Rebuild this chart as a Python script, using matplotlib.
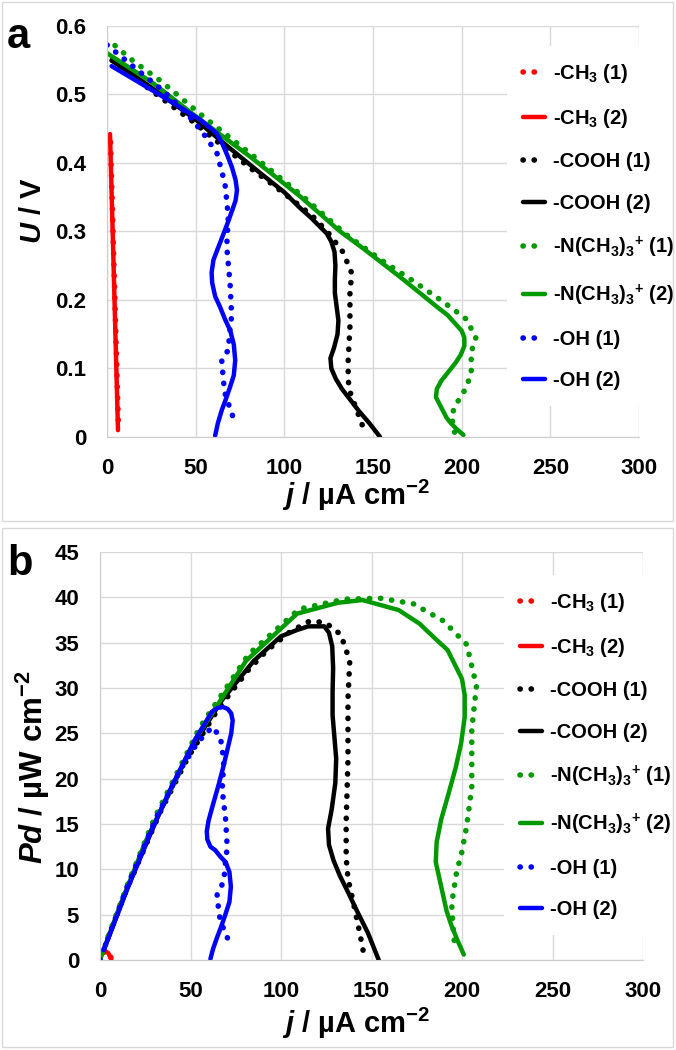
import matplotlib
matplotlib.use("Agg")
import matplotlib.pyplot as plt
from matplotlib.patches import Rectangle

plt.rcParams["font.family"] = ["Liberation Sans", "DejaVu Sans"]
plt.rcParams["font.weight"] = "bold"
plt.rcParams["mathtext.fontset"] = "custom"
plt.rcParams["mathtext.rm"] = "Liberation Sans:bold"
plt.rcParams["mathtext.bf"] = "Liberation Sans:bold"
plt.rcParams["mathtext.it"] = "Liberation Sans:italic:bold"

# ---- data: current density j (uA/cm2), cell voltage U (V), power density Pd (uW/cm2)
ch3_1_j = [2.0, 3.5, 5.0, 6.5]
ch3_1_u = [0.43, 0.29, 0.15, 0.01]
ch3_1_pd = [0.86, 1.02, 0.75, 0.07]

ch3_2_j = [1.7, 3.2, 4.7, 6.2]
ch3_2_u = [0.442, 0.30, 0.155, 0.01]
ch3_2_pd = [0.75, 0.96, 0.73, 0.06]

cooh_1_j = [3, 15, 33, 48.5, 65, 82, 92, 105, 116, 124.7, 133, 138, 137, 137, 136, 136, 137, 140, 143.6, 145.5]
cooh_1_u = [0.55, 0.525, 0.49, 0.46, 0.425, 0.39, 0.371, 0.345, 0.322, 0.298, 0.27, 0.239, 0.21,
            0.161, 0.112, 0.083, 0.066, 0.045, 0.02, 0.006]
cooh_1_pd = [1.65, 7.9, 16.2, 22.3, 27.6, 32.0, 34.1, 36.2, 37.4, 37.2, 35.9, 33.0, 28.8,
             22.1, 15.2, 11.3, 9.0, 6.3, 2.9, 0.9]

cooh_2_j = [2.6, 15, 33, 50, 67.5, 85, 100, 108.9, 115, 120, 123.9, 126.5, 128.3, 128.8, 128.5,
            128.5, 129.5, 130.5, 130, 128, 126, 126.5, 129, 132.5, 137, 142, 148, 154]
cooh_2_u = [0.549, 0.528, 0.495, 0.463, 0.425, 0.388, 0.357, 0.334, 0.32, 0.307, 0.297, 0.285,
            0.27, 0.25, 0.23, 0.21, 0.19, 0.17, 0.15, 0.13, 0.115, 0.1, 0.085, 0.07, 0.055,
            0.038, 0.02, 0.0]
cooh_2_pd = [1.4, 7.9, 16.3, 23.2, 28.7, 33.0, 35.7, 36.4, 36.8, 36.8, 36.8, 36.1, 34.6, 32.2,
             29.6, 27.0, 24.6, 22.2, 19.5, 16.6, 14.5, 12.7, 11.0, 9.3, 7.5, 5.4, 3.0, 0.0]

nme3_1_j = [4.5, 15, 30, 55, 82, 110, 135, 154.7, 173, 189.7, 202.6, 208, 205.4, 205.4, 202.6,
            199.8, 197, 194.3, 195.2, 196]
nme3_1_u = [0.571, 0.548, 0.52, 0.466, 0.411, 0.352, 0.295, 0.258, 0.227, 0.197, 0.172, 0.145,
            0.124, 0.093, 0.073, 0.059, 0.049, 0.032, 0.017, 0.007]
nme3_1_pd = [2.6, 8.2, 15.6, 25.6, 33.7, 38.7, 39.8, 39.9, 39.3, 37.4, 34.8, 30.2, 25.5, 19.1,
             14.8, 11.8, 9.7, 6.2, 3.3, 1.4]

nme3_2_j = [0, 10, 25, 52.5, 80.7, 108.9, 131.4, 145, 165, 176.5, 186, 192, 196.5, 200, 201.5,
            201.5, 199.5, 196.5, 192.5, 188.5, 186, 185.5, 187.5, 189.5, 191.5, 194, 197, 201]
nme3_2_u = [0.56, 0.543, 0.518, 0.463, 0.409, 0.351, 0.300, 0.274, 0.234, 0.21, 0.19, 0.178,
            0.165, 0.155, 0.145, 0.133, 0.12, 0.108, 0.095, 0.082, 0.07, 0.058, 0.048, 0.038,
            0.028, 0.02, 0.012, 0.003]
nme3_2_pd = [0, 5.4, 13.0, 24.3, 33.0, 38.2, 39.4, 39.7, 38.6, 37.1, 35.3, 34.2, 32.4, 31.0,
             29.2, 26.8, 23.9, 21.2, 18.3, 15.5, 13.0, 10.8, 9.0, 7.2, 5.4, 3.9, 2.4, 0.6]

oh_1_j = [0, 15, 30.8, 45, 54, 62, 66.5, 68.4, 67.5, 69.4, 70.3, 69.4, 68.4, 64.7, 65.6, 66.5,
          68.4, 70.3, 72.2]
oh_1_u = [0.572, 0.54, 0.507, 0.472, 0.444, 0.414, 0.37, 0.322, 0.278, 0.224, 0.176, 0.159,
          0.127, 0.112, 0.083, 0.064, 0.049, 0.035, 0.02]
oh_1_pd = [0, 8.1, 15.6, 21.2, 24.0, 25.7, 24.6, 22.0, 18.8, 15.5, 12.4, 11.0, 8.7, 7.2, 5.4,
           4.3, 3.4, 2.5, 1.4]

oh_2_j = [2.6, 15, 28, 40, 52.5, 61.9, 65, 68, 70.5, 72.5, 73.3, 72.5, 70.5, 68, 65.5, 62.5, 60,
          59, 59.3, 61, 63.7, 66.5, 69.4, 71.5, 72.3, 71.5, 69.4, 67, 64.7, 62.5, 61]
oh_2_u = [0.541, 0.522, 0.502, 0.483, 0.463, 0.443, 0.428, 0.41, 0.393, 0.375, 0.36, 0.345,
          0.33, 0.312, 0.295, 0.275, 0.258, 0.24, 0.225, 0.205, 0.19, 0.172, 0.156, 0.135, 0.112,
          0.09, 0.073, 0.055, 0.039, 0.02, 0.002]
oh_2_pd = [1.4, 7.8, 14.1, 19.3, 24.3, 27.4, 27.8, 27.9, 27.7, 27.2, 26.4, 25.0, 23.3, 21.2,
           19.3, 17.2, 15.4, 14.2, 13.3, 12.5, 12.1, 11.4, 10.8, 9.7, 8.1, 6.4, 5.1, 3.7, 2.5,
           1.25, 0.12]

labels = ["-CH$_\\mathbf{3}$ (1)", "-CH$_\\mathbf{3}$ (2)", "-COOH (1)", "-COOH (2)",
          "-N(CH$_\\mathbf{3}$)$_\\mathbf{3}$$^\\mathbf{+}$ (1)",
          "-N(CH$_\\mathbf{3}$)$_\\mathbf{3}$$^\\mathbf{+}$ (2)", "-OH (1)", "-OH (2)"]
colors = ["#ff0000", "#ff0000", "#000000", "#000000", "#009900", "#009900", "#0000ff", "#0000ff"]

j_series = [ch3_1_j, ch3_2_j, cooh_1_j, cooh_2_j, nme3_1_j, nme3_2_j, oh_1_j, oh_2_j]
u_series = [ch3_1_u, ch3_2_u, cooh_1_u, cooh_2_u, nme3_1_u, nme3_2_u, oh_1_u, oh_2_u]
pd_series = [ch3_1_pd, ch3_2_pd, cooh_1_pd, cooh_2_pd, nme3_1_pd, nme3_2_pd, oh_1_pd, oh_2_pd]

x_ticks = [0, 50, 100, 150, 200, 250, 300]
u_ticks = [0, 0.1, 0.2, 0.3, 0.4, 0.5, 0.6]
u_tick_labels = ["0", "0.1", "0.2", "0.3", "0.4", "0.5", "0.6"]
pd_ticks = [0, 5, 10, 15, 20, 25, 30, 35, 40, 45]

W, H = 676, 1050
GRID = "#d9d9d9"

fig = plt.figure(figsize=(W / 100, H / 100), dpi=100)
fig.patches.append(Rectangle((2 / W, 1 - 521 / H), 671 / W, 519 / H, transform=fig.transFigure,
                             fill=False, edgecolor=GRID, lw=1))
fig.patches.append(Rectangle((2 / W, 1 - 1047 / H), 671 / W, 519 / H, transform=fig.transFigure,
                             fill=False, edgecolor=GRID, lw=1))

ax_a = fig.add_axes([107 / W, 1 - 437 / H, (639 - 107) / W, (437 - 25.7) / H])
ax_b = fig.add_axes([100 / W, 1 - 960 / H, (643 - 100) / W, (960 - 552) / H])


def draw(ax, ys):
    for k in range(8):
        if k % 2 == 0:
            ax.plot(j_series[k], ys[k], color=colors[k], lw=4.0, linestyle=(0, (0.05, 1.95)),
                    dash_capstyle="round", label=labels[k])
        else:
            ax.plot(j_series[k], ys[k], color=colors[k], lw=3.2, solid_capstyle="round",
                    solid_joinstyle="round", label=labels[k])
    ax.set_xlim(0, 300)
    ax.set_xticks(x_ticks)
    ax.grid(color=GRID, lw=1)
    ax.set_axisbelow(True)
    for side in ("top", "right"):
        ax.spines[side].set_visible(False)
    for side in ("left", "bottom"):
        ax.spines[side].set_color("#cccccc")
    ax.tick_params(length=0, labelsize=16, pad=15)


draw(ax_a, u_series)
ax_a.set_ylim(0, 0.6)
ax_a.set_yticks(u_ticks, u_tick_labels)

draw(ax_b, pd_series)
ax_b.set_ylim(0, 45)
ax_b.set_yticks(pd_ticks)

for ax in (ax_a, ax_b):
    for t in ax.get_xticklabels() + ax.get_yticklabels():
        t.set_fontweight("bold")

leg_kw = dict(loc="upper left", bbox_transform=fig.transFigure, frameon=True, facecolor="white",
              edgecolor="none", framealpha=1, fancybox=False, borderpad=0.8, handlelength=1.1,
              handletextpad=0.4, labelspacing=1.1, prop={"size": 14.5, "weight": "bold"})
ax_a.legend(bbox_to_anchor=(497 / W, 1 - 36 / H), **leg_kw)
ax_b.legend(bbox_to_anchor=(494 / W, 1 - 565 / H), **leg_kw)

fig.text(7 / W, 1 - 48 / H, "a", fontsize=30, fontweight="bold", va="baseline")
fig.text(7 / W, 1 - 575 / H, "b", fontsize=30, fontweight="bold", va="baseline")

fig.text(356 / W, 1 - 495 / H, "$\\mathit{j}$ / µA cm$^\\mathbf{-2}$", fontsize=21,
         fontweight="bold", ha="center", va="center")
fig.text(356 / W, 1 - 1023 / H, "$\\mathit{j}$ / µA cm$^\\mathbf{-2}$", fontsize=21,
         fontweight="bold", ha="center", va="center")
fig.text(33 / W, 1 - 211 / H, "$\\mathit{U}$ / V", fontsize=21, fontweight="bold",
         ha="center", va="center", rotation=90)
fig.text(33 / W, 1 - 767 / H, "$\\mathit{Pd}$ / µW cm$^\\mathbf{-2}$", fontsize=22.5,
         fontweight="bold", ha="center", va="center", rotation=90)

fig.savefig("out.png", dpi=100)
